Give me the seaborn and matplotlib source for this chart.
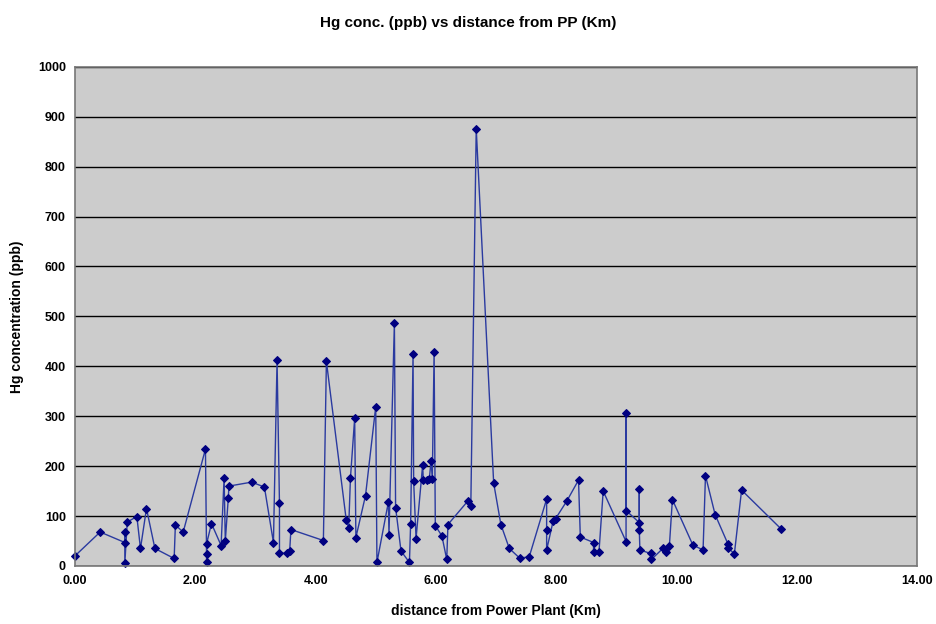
import pandas as pd
import matplotlib.pyplot as plt
import seaborn as sns

# distance from power plant (km) and Hg concentration (ppb), in survey order
distance_km = [
    0.00, 0.42, 0.83, 0.83, 0.83, 0.87, 1.03, 1.09, 1.19, 1.33,
    1.65, 1.67, 1.80, 2.17, 2.19, 2.19, 2.19, 2.27, 2.43, 2.48,
    2.50, 2.55, 2.56, 2.94, 3.15, 3.30, 3.36, 3.40, 3.40, 3.53,
    3.57, 3.59, 4.13, 4.18, 4.51, 4.55, 4.58, 4.65, 4.67, 4.83,
    5.00, 5.02, 5.21, 5.22, 5.31, 5.33, 5.42, 5.56, 5.58, 5.62,
    5.63, 5.67, 5.78, 5.79, 5.85, 5.89, 5.92, 5.94, 5.97, 5.99,
    6.10, 6.18, 6.20, 6.53, 6.58, 6.67, 6.96, 7.08, 7.22, 7.39,
    7.55, 7.84, 7.84, 7.84, 7.95, 7.99, 8.18, 8.37, 8.40, 8.62,
    8.62, 8.71, 8.78, 9.16, 9.16, 9.16, 9.38, 9.38, 9.38, 9.39,
    9.57, 9.58, 9.78, 9.82, 9.88, 9.93, 10.27, 10.44, 10.48, 10.64,
    10.85, 10.86, 10.96, 11.08, 11.73,
]
hg_ppb = [
    20, 68, 47, 69, 5, 88, 99, 35, 115, 35,
    15, 82, 68, 234, 7, 23, 45, 85, 41, 177,
    50, 137, 160, 168, 158, 47, 412, 126, 26, 25,
    30, 73, 51, 410, 92, 76, 177, 296, 57, 141,
    319, 7, 128, 62, 487, 117, 30, 7, 85, 424,
    170, 55, 203, 172, 172, 174, 211, 174, 429, 81,
    60, 13, 83, 130, 120, 876, 166, 83, 35, 16,
    18, 134, 73, 32, 91, 95, 131, 172, 58, 47,
    28, 28, 150, 49, 307, 111, 87, 154, 73, 32,
    25, 13, 36, 27, 40, 133, 42, 32, 181, 103,
    45, 36, 24, 152, 75,
]

df = pd.DataFrame({'dist': distance_km, 'hg': hg_ppb})

sns.set_style('white')
plt.rcParams['font.family'] = ['Liberation Sans Narrow', 'Liberation Sans', 'DejaVu Sans']
plt.rcParams['text.color'] = 'black'
plt.rcParams['axes.labelcolor'] = 'black'
plt.rcParams['xtick.labelcolor'] = 'black'
plt.rcParams['ytick.labelcolor'] = 'black'

fig = plt.figure(figsize=(9.36, 6.24), dpi=100)
ax = fig.add_axes([0.080, 0.093, 0.900, 0.800])
ax.set_facecolor('#cccccc')

sns.lineplot(data=df, x='dist', y='hg', sort=False, estimator=None,
             color='#2a3aa0', linewidth=1.0, marker='D', markersize=4.2,
             markerfacecolor='#000080', markeredgecolor='#000080', ax=ax,
             clip_on=False)

ax.set_xlim(0, 14)
ax.set_ylim(0, 1000)
ax.set_xticks(range(0, 15, 2))
ax.set_xticklabels([f'{v:.2f}' for v in range(0, 15, 2)])
ax.set_yticks(range(0, 1001, 100))
ax.yaxis.grid(True, color='black', linewidth=1.0)
ax.set_axisbelow(True)
ax.tick_params(axis='both', length=3, width=0.8, color='#555555', labelsize=9)
for lab in ax.get_xticklabels() + ax.get_yticklabels():
    lab.set_fontweight('bold')
for s in ax.spines.values():
    s.set_color('#777777')
    s.set_linewidth(1.2)

ax.set_xlabel('distance from Power Plant (Km)', fontsize=10, fontweight='bold', labelpad=12)
ax.set_ylabel('Hg concentration (ppb)', fontsize=10, fontweight='bold', labelpad=10)
fig.suptitle('Hg conc. (ppb) vs distance from PP (Km)', fontsize=11, fontweight='bold', y=0.975)

fig.savefig('out.png', dpi=100)
